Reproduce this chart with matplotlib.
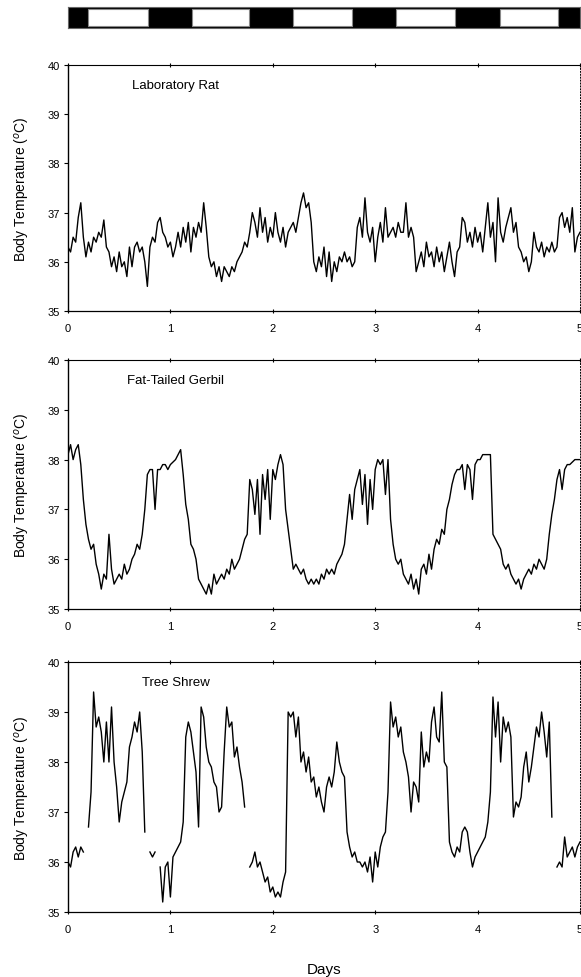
import matplotlib.pyplot as plt
import numpy as np

plt.rcParams['font.family'] = ['Liberation Sans', 'DejaVu Sans']

# light/dark schedule (days)
lights_on = [0.20, 1.21, 2.20, 3.20, 4.22]
lights_off = [0.78, 1.77, 2.77, 3.78, 4.79]

# body temperature, one value every 0.025 day (rows = 0.2 day)
rat = [
    36.3, 36.2, 36.5, 36.4, 36.9, 37.2, 36.5, 36.1,
    36.4, 36.2, 36.5, 36.4, 36.6, 36.5, 36.85, 36.3,
    36.2, 35.9, 36.1, 35.8, 36.2, 35.9, 36.0, 35.7,
    36.3, 35.9, 36.3, 36.4, 36.2, 36.3, 36.0, 35.5,
    36.3, 36.5, 36.4, 36.8, 36.9, 36.6, 36.5, 36.3,
    36.4, 36.1, 36.3, 36.6, 36.3, 36.7, 36.4, 36.8,
    36.2, 36.7, 36.5, 36.8, 36.6, 37.2, 36.7, 36.1,
    35.9, 36.0, 35.7, 35.9, 35.6, 35.9, 35.8, 35.7,
    35.9, 35.8, 36.0, 36.1, 36.2, 36.4, 36.3, 36.6,
    37.0, 36.8, 36.5, 37.1, 36.6, 36.9, 36.4, 36.7,
    36.5, 37.0, 36.6, 36.4, 36.7, 36.3, 36.6, 36.7,
    36.8, 36.6, 36.9, 37.2, 37.4, 37.1, 37.2, 36.8,
    36.0, 35.8, 36.1, 35.9, 36.3, 35.7, 36.2, 35.6,
    36.0, 35.8, 36.1, 36.0, 36.2, 36.0, 36.1, 35.9,
    36.0, 36.7, 36.9, 36.5, 37.3, 36.6, 36.4, 36.7,
    36.0, 36.5, 36.8, 36.4, 37.1, 36.5, 36.6, 36.7,
    36.5, 36.8, 36.6, 36.6, 37.2, 36.5, 36.7, 36.5,
    35.8, 36.0, 36.2, 35.9, 36.4, 36.1, 36.2, 35.9,
    36.3, 36.0, 36.2, 35.8, 36.1, 36.4, 36.0, 35.7,
    36.2, 36.3, 36.9, 36.8, 36.4, 36.6, 36.3, 36.7,
    36.4, 36.6, 36.2, 36.7, 37.2, 36.5, 36.8, 36.0,
    37.3, 36.6, 36.4, 36.7, 36.9, 37.1, 36.6, 36.8,
    36.3, 36.2, 36.0, 36.1, 35.8, 36.0, 36.6, 36.3,
    36.2, 36.4, 36.1, 36.3, 36.2, 36.4, 36.2, 36.3,
    36.9, 37.0, 36.7, 36.9, 36.6, 37.1, 36.2, 36.5,
    36.6,
]

gerbil = [
    38.1, 38.3, 38.0, 38.2, 38.3, 37.9, 37.2, 36.7,
    36.4, 36.2, 36.3, 35.9, 35.7, 35.4, 35.7, 35.6,
    36.5, 35.8, 35.5, 35.6, 35.7, 35.6, 35.9, 35.7,
    35.8, 36.0, 36.1, 36.3, 36.2, 36.5, 37.0, 37.7,
    37.8, 37.8, 37.0, 37.8, 37.8, 37.9, 37.9, 37.8,
    37.9, 37.95, 38.0, 38.1, 38.2, 37.7, 37.1, 36.8,
    36.3, 36.2, 36.0, 35.6, 35.5, 35.4, 35.3, 35.5,
    35.3, 35.7, 35.5, 35.6, 35.7, 35.6, 35.8, 35.7,
    36.0, 35.8, 35.9, 36.0, 36.2, 36.4, 36.5, 37.6,
    37.4, 36.9, 37.6, 36.5, 37.7, 37.2, 37.8, 36.8,
    37.8, 37.6, 37.9, 38.1, 37.9, 37.0, 36.6, 36.2,
    35.8, 35.9, 35.8, 35.7, 35.8, 35.6, 35.5, 35.6,
    35.5, 35.6, 35.5, 35.7, 35.6, 35.8, 35.7, 35.8,
    35.7, 35.9, 36.0, 36.1, 36.3, 36.8, 37.3, 36.8,
    37.4, 37.6, 37.8, 37.1, 37.7, 36.7, 37.6, 37.0,
    37.8, 38.0, 37.9, 38.0, 37.3, 38.0, 36.8, 36.3,
    36.0, 35.9, 36.0, 35.7, 35.6, 35.5, 35.7, 35.4,
    35.6, 35.3, 35.8, 35.9, 35.7, 36.1, 35.8, 36.2,
    36.4, 36.3, 36.6, 36.5, 37.0, 37.2, 37.5, 37.7,
    37.8, 37.8, 37.9, 37.4, 37.9, 37.8, 37.2, 37.9,
    38.0, 38.0, 38.1, 38.1, 38.1, 38.1, 36.5, 36.4,
    36.3, 36.2, 35.9, 35.8, 35.9, 35.7, 35.6, 35.5,
    35.6, 35.4, 35.6, 35.7, 35.8, 35.7, 35.9, 35.8,
    36.0, 35.9, 35.8, 36.0, 36.5, 36.9, 37.2, 37.6,
    37.8, 37.4, 37.8, 37.9, 37.9, 37.95, 38.0, 38.0,
    38.0,
]

nan = np.nan
shrew = [
    36.0, 35.9, 36.2, 36.3, 36.1, 36.3, 36.2, nan,
    36.7, 37.4, 39.4, 38.7, 38.9, 38.6, 38.0, 38.8,
    38.0, 39.1, 38.0, 37.5, 36.8, 37.2, 37.4, 37.6,
    38.3, 38.5, 38.8, 38.6, 39.0, 38.2, 36.6, nan,
    36.2, 36.1, 36.2, nan, 35.9, 35.2, 35.9, 36.0,
    35.3, 36.1, 36.2, 36.3, 36.4, 36.8, 38.5, 38.8,
    38.6, 38.2, 37.8, 36.7, 39.1, 38.9, 38.3, 38.0,
    37.9, 37.6, 37.5, 37.0, 37.1, 38.2, 39.1, 38.7,
    38.8, 38.1, 38.3, 37.9, 37.6, 37.1, nan, 35.9,
    36.0, 36.2, 35.9, 36.0, 35.8, 35.6, 35.7, 35.4,
    35.5, 35.3, 35.4, 35.3, 35.6, 35.8, 39.0, 38.9,
    39.0, 38.5, 38.9, 38.0, 38.2, 37.8, 38.1, 37.6,
    37.7, 37.3, 37.5, 37.2, 37.0, 37.5, 37.7, 37.5,
    37.8, 38.4, 38.0, 37.8, 37.7, 36.6, 36.3, 36.1,
    36.2, 36.0, 36.0, 35.9, 36.0, 35.8, 36.1, 35.6,
    36.2, 35.9, 36.3, 36.5, 36.6, 37.4, 39.2, 38.7,
    38.9, 38.5, 38.7, 38.2, 38.0, 37.7, 37.0, 37.6,
    37.5, 37.2, 38.6, 37.9, 38.2, 38.0, 38.8, 39.1,
    38.5, 38.4, 39.4, 38.0, 37.9, 36.4, 36.2, 36.1,
    36.3, 36.2, 36.6, 36.7, 36.6, 36.2, 35.9, 36.1,
    36.2, 36.3, 36.4, 36.5, 36.8, 37.4, 39.3, 38.5,
    39.2, 38.0, 38.9, 38.6, 38.8, 38.5, 36.9, 37.2,
    37.1, 37.3, 37.9, 38.2, 37.6, 37.9, 38.3, 38.7,
    38.5, 39.0, 38.6, 38.1, 38.8, 36.9, nan, 35.9,
    36.0, 35.9, 36.5, 36.1, 36.2, 36.3, 36.1, 36.3,
    36.4,
]

species = ['Laboratory Rat', 'Fat-Tailed Gerbil', 'Tree Shrew']
series = [rat, gerbil, shrew]
day_ticks = [0, 1, 2, 3, 4, 5]
temp_ticks = [35, 36, 37, 38, 39, 40]

W, H = 581, 978
fig = plt.figure(figsize=(W / 100, H / 100), dpi=100)

# light/dark bar
bar = fig.add_axes([68 / W, 1 - 29 / H, 512 / W, 21 / H])
bar.set_facecolor('black')
bar.set_xlim(0, 5)
bar.set_ylim(0, 1)
for on, off in zip(lights_on, lights_off):
    bar.axvspan(on, off, ymin=0.1, ymax=0.9, facecolor='white',
                edgecolor='#888888', lw=0.8)
bar.set_xticks([])
bar.set_yticks([])
for s in bar.spines.values():
    s.set_color('#666666')
    s.set_linewidth(0.8)

panels = [(66, 312), (361, 610), (663, 913)]
for i, (name, vals) in enumerate(zip(species, series)):
    top, bot = panels[i]
    ax = fig.add_axes([68 / W, 1 - bot / H, 512 / W, (bot - top) / H])
    t = np.linspace(0, 5, len(vals))
    ax.plot(t, vals, color='black', lw=1.0)
    ax.set_xlim(0, 5)
    ax.set_ylim(35, 40)
    ax.set_xticks(day_ticks)
    ax.set_yticks(temp_ticks)
    ax.tick_params(axis='both', labelsize=8, length=3, width=0.8,
                   colors='black', top=True, direction='inout')
    ax.tick_params(axis='x', pad=7)
    ax.tick_params(axis='y', direction='out', pad=3)
    ax.set_ylabel('Body Temperature ($^{o}$C)', fontsize=10, labelpad=11)
    ax.text(1.05, 39.6, name, ha='center', va='center', fontsize=9.5)
    ax.spines['left'].set_linewidth(1.0)
    ax.spines['top'].set_linestyle((0, (1, 1)))
    ax.spines['top'].set_linewidth(0.8)
    ax.spines['right'].set_linestyle((0, (1, 2)))
    ax.spines['right'].set_linewidth(0.7)
    if i > 0:
        ax.spines['bottom'].set_linestyle((0, (1, 1)))
    ax.spines['bottom'].set_linewidth(0.9)
    if i == 2:
        ax.set_xlabel('Days', fontsize=11, labelpad=20)

fig.savefig('out.png', dpi=100)
